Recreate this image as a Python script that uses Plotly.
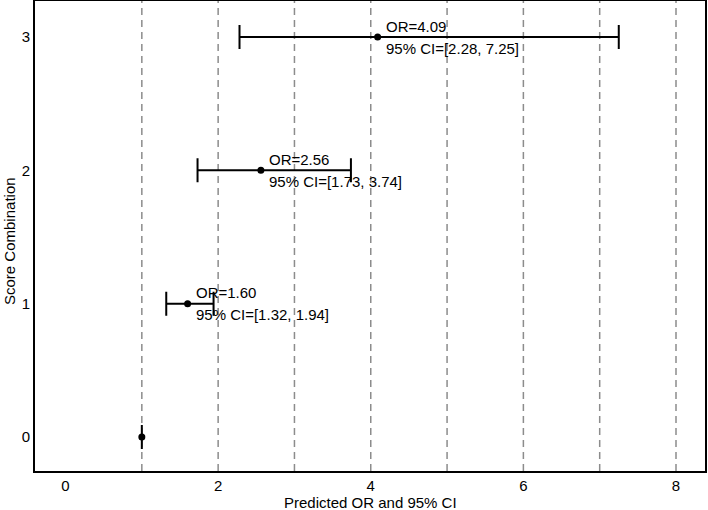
import plotly.graph_objects as go

# score combination vs predicted odds ratio
scores = [0, 1, 2, 3]
or_vals = [1.00, 1.60, 2.56, 4.09]
ci_low = [1.00, 1.32, 1.73, 2.28]
ci_high = [1.00, 1.94, 3.74, 7.25]
x_ticks = [0, 2, 4, 6, 8]
grid_x = [1, 2, 3, 4, 5, 6, 7, 8]

FONT = "Arial, Liberation Sans, sans-serif"

fig = go.Figure(go.Scatter(
    x=or_vals, y=scores, mode="markers",
    marker=dict(color="black", size=7),
    error_x=dict(type="data", symmetric=False,
                 array=[h - o for h, o in zip(ci_high, or_vals)],
                 arrayminus=[o - l for o, l in zip(or_vals, ci_low)],
                 color="black", thickness=2, width=12),
    hoverinfo="skip",
))

for gx in grid_x:
    fig.add_shape(type="line", xref="x", yref="paper", x0=gx, x1=gx, y0=0, y1=1,
                  line=dict(color="#8c8c8c", width=1.5, dash="7px,5px"), layer="below")

for s, o, l, h in zip(scores, or_vals, ci_low, ci_high):
    if s == 0:
        continue
    fig.add_annotation(x=o, y=s, text=f"OR={o:.2f}", showarrow=False,
                       xanchor="left", yanchor="middle", xshift=6, yshift=11,
                       font=dict(size=15, color="black", family=FONT))
    fig.add_annotation(x=o, y=s, text=f"95% CI=[{l:.2f}, {h:.2f}]", showarrow=False,
                       xanchor="left", yanchor="middle", xshift=6, yshift=-11,
                       font=dict(size=15, color="black", family=FONT))

# axis titles
fig.add_annotation(x=0.5, y=0, xref="paper", yref="paper", yshift=-31, text="Predicted OR and 95% CI",
                   showarrow=False, xanchor="center", yanchor="middle",
                   font=dict(size=15, color="black", family=FONT))
fig.add_annotation(x=0, y=0.5, xref="paper", yref="paper", xshift=-26, yshift=-5,
                   text="Score Combination", showarrow=False, textangle=-90,
                   xanchor="center", yanchor="middle",
                   font=dict(size=15, color="black", family=FONT))

fig.update_layout(
    width=708, height=510,
    paper_bgcolor="white", plot_bgcolor="white",
    font=dict(family=FONT, color="black", size=12),
    margin=dict(l=35, r=3, t=1, b=39, autoexpand=False),
    showlegend=False,
    xaxis=dict(range=[-0.40, 8.38], tickvals=x_ticks, showgrid=False, zeroline=False,
               showline=True, linecolor="black", linewidth=2, mirror=True, automargin=False,
               ticks="", tickfont=dict(size=15)),
    yaxis=dict(range=[-0.255, 3.27], tickvals=scores, showgrid=False, zeroline=False,
               showline=True, linecolor="black", linewidth=2, mirror=True, automargin=False,
               ticks="", tickfont=dict(size=15)),
)

fig.write_html("out.html", config={"displayModeBar": False},
               post_script="document.body.style.margin='0px';")
